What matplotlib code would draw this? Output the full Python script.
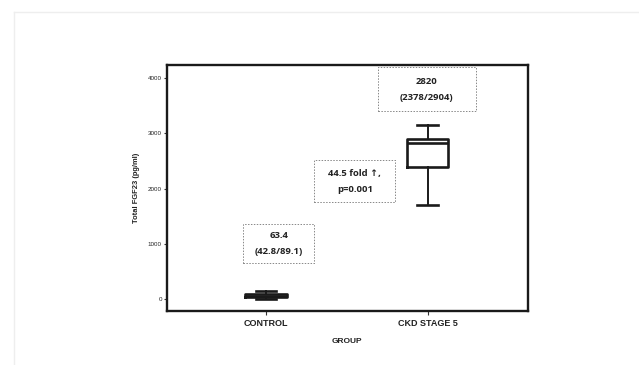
import matplotlib
matplotlib.use("Agg")
import matplotlib.pyplot as plt
from matplotlib.lines import Line2D
from matplotlib.patches import Rectangle

groups = ["CONTROL", "CKD STAGE 5"]
medians = [63.4, 2820]
q1 = [42.8, 2400]
q3 = [89.1, 2904]
whislo = [8, 1710]
whishi = [150, 3150]

yticks = [0, 1000, 2000, 3000, 4000]
ann_texts = ["63.4\n(42.8/89.1)", "44.5 fold \u2191,\np=0.001", "2820\n(2378/2904)"]
# box extents in data coords: (x0, x1, y0, y1)
ann_boxes = [(0.86, 1.30, 660, 1360), (1.30, 1.80, 1760, 2510), (1.69, 2.30, 3400, 4210)]

fig = plt.figure(figsize=(6.39, 3.65), dpi=100)
ax = fig.add_axes([0.261, 0.148, 0.565, 0.674])

stats = []
for i, g in enumerate(groups):
    stats.append(dict(label=g, med=medians[i], q1=q1[i], q3=q3[i],
                      whislo=whislo[i], whishi=whishi[i], fliers=[]))
ax.bxp(stats, positions=[1, 2], widths=0.255, showfliers=False,
       boxprops=dict(color="#1a1a1a", linewidth=1.9),
       medianprops=dict(color="#1a1a1a", linewidth=1.9),
       whiskerprops=dict(color="#1a1a1a", linewidth=1.4),
       capprops=dict(color="#1a1a1a", linewidth=1.9), capwidths=0.128)

ax.set_xlim(0.386, 2.62)
ax.set_ylim(-217, 4241)
ax.set_yticks(yticks)
ax.set_yticklabels([str(t) for t in yticks], fontsize=4.5, color="#222222",
                   family="Liberation Sans")
ax.set_xticks([1, 2])
ax.set_xticklabels(groups, fontsize=6.5, fontweight="bold", color="#222222",
                   family="Liberation Sans")
ax.tick_params(axis="y", length=2.5, width=0.8, pad=1, color="#333333")
ax.tick_params(axis="x", length=3, width=0.8, pad=3, color="#333333")
for s in ax.spines.values():
    s.set_linewidth(1.7)
    s.set_color("#1a1a1a")

ax.set_ylabel("Total FGF23 (pg/ml)", fontsize=5.4, fontweight="bold",
              color="#222222", family="Liberation Sans", labelpad=6)
ax.set_xlabel("GROUP", fontsize=6, fontweight="bold", color="#222222",
              family="Liberation Sans", labelpad=7)

for txt, (x0, x1, y0, y1) in zip(ann_texts, ann_boxes):
    ax.add_patch(Rectangle((x0, y0), x1 - x0, y1 - y0, fill=False,
                           edgecolor="#888888", linestyle=(0, (1.5, 1.5)),
                           linewidth=0.7))
    ax.text((x0 + x1) / 2, (y0 + y1) / 2, txt, ha="center", va="center",
            fontsize=6.8, fontweight="bold", color="#222222",
            family=["Open Sans", "DejaVu Sans"], linespacing=2.0)

# faint page border
fig.add_artist(Line2D([14 / 639, 1], [1 - 11.7 / 365, 1 - 11.7 / 365],
                      color="#eeeeee", linewidth=1))
fig.add_artist(Line2D([14 / 639, 14 / 639], [0, 1 - 11.7 / 365],
                      color="#eeeeee", linewidth=1))

fig.savefig("out.png", dpi=100)
